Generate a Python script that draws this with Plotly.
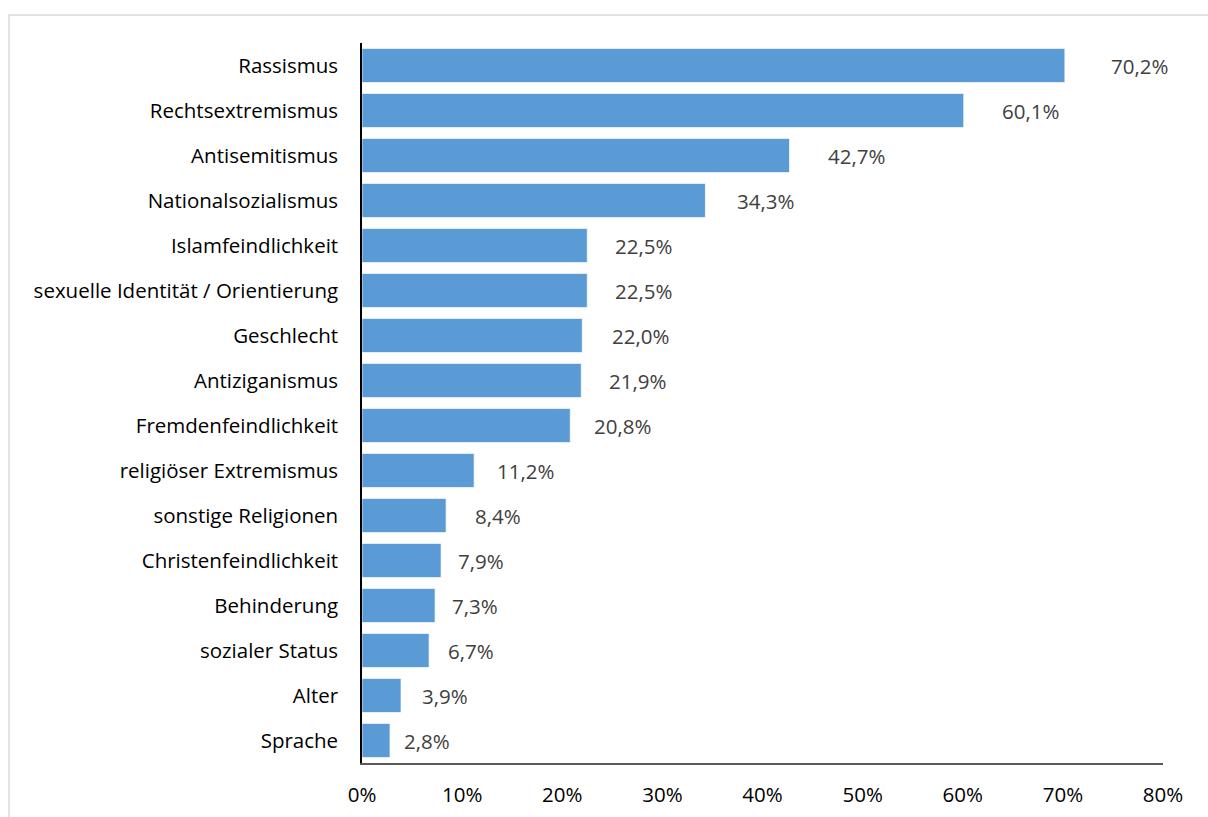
import plotly.graph_objects as go

categories = [
    "Rassismus", "Rechtsextremismus", "Antisemitismus", "Nationalsozialismus",
    "Islamfeindlichkeit", "sexuelle Identität / Orientierung", "Geschlecht",
    "Antiziganismus", "Fremdenfeindlichkeit", "religiöser Extremismus",
    "sonstige Religionen", "Christenfeindlichkeit", "Behinderung",
    "sozialer Status", "Alter", "Sprache",
]
shares = [70.2, 60.1, 42.7, 34.3, 22.5, 22.5, 22.0, 21.9, 20.8, 11.2,
          8.4, 7.9, 7.3, 6.7, 3.9, 2.8]
labels = ["70,2%", "60,1%", "42,7%", "34,3%", "22,5%", "22,5%", "22,0%", "21,9%",
          "20,8%", "11,2%", "8,4%", "7,9%", "7,3%", "6,7%", "3,9%", "2,8%"]
tick_vals = [0, 10, 20, 30, 40, 50, 60, 70, 80]
tick_text = ["0%", "10%", "20%", "30%", "40%", "50%", "60%", "70%", "80%"]

# gap in pixels between bar end and the start of its value label
label_gap_px = [44, 36, 36, 30, 26, 26, 28, 26, 22, 21, 27, 15, 15, 17, 19, 12]

FONT = "Open Sans"
FS = 20.5
W, H = 1208, 817
L, R, T, B = 362, 45, 43, 54

fig = go.Figure()
fig.add_trace(go.Bar(
    y=categories,
    x=shares,
    orientation="h",
    width=0.76,
    marker=dict(color="#5B9BD5", line=dict(color="rgba(255,255,255,0.7)", width=1)),
    hoverinfo="skip",
))

for cat, v, txt, gap in zip(categories, shares, labels, label_gap_px):
    fig.add_annotation(
        x=v, y=cat, text=txt, showarrow=False,
        xanchor="left", yanchor="middle", xshift=gap,
        font=dict(family=FONT, size=FS, color="#404040"),
    )

# thin gray frame around the chart area
pw, ph = W - L - R, H - T - B
fig.add_shape(
    type="rect", xref="paper", yref="paper",
    x0=(9 - L) / pw, x1=(W + 10 - L) / pw,
    y0=-(H + 10 - (H - B)) / ph, y1=1 + (T - 15) / ph,
    line=dict(color="#D9D9D9", width=1.5), fillcolor="rgba(0,0,0,0)", layer="below",
)

fig.update_layout(
    width=W, height=H,
    margin=dict(l=L, r=R, t=T, b=B, pad=0, autoexpand=False),
    paper_bgcolor="white", plot_bgcolor="white",
    showlegend=False,
    bargap=0.24,
    font=dict(family=FONT, size=FS, color="#000000"),
    xaxis=dict(
        range=[0, 80], tickvals=tick_vals, ticktext=tick_text,
        showgrid=False, zeroline=False, automargin=False,
        showline=True, linecolor="#595959", linewidth=1.5,
        ticks="outside", ticklen=0, ticklabelstandoff=13,
        tickfont=dict(family=FONT, size=FS, color="#000000"),
        fixedrange=True,
    ),
    yaxis=dict(
        categoryorder="array", categoryarray=categories, autorange="reversed",
        showgrid=False, zeroline=False, automargin=False,
        showline=True, linecolor="#000000", linewidth=1.5,
        ticks="outside", ticklen=0, ticklabelstandoff=18,
        tickfont=dict(family=FONT, size=FS, color="#000000"),
        fixedrange=True,
    ),
)

fig.write_html("out.html")
